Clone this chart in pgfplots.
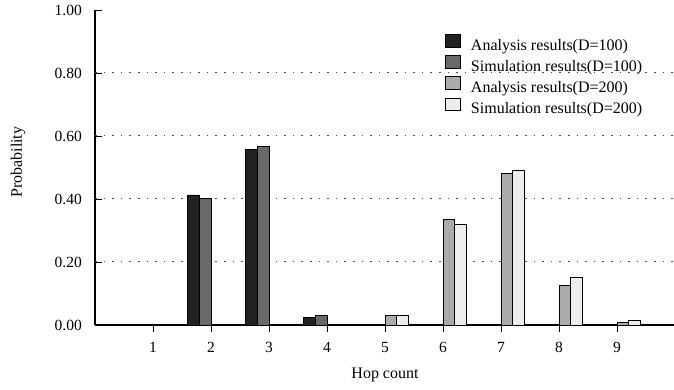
\documentclass[border=0pt]{standalone}
\usepackage{pgfplots}
\pgfplotsset{compat=1.18}
\usepackage{fontspec}
\setmainfont{Liberation Serif}
\begin{document}
\begin{tikzpicture}
\begin{axis}[
  at={(0pt,0pt)}, anchor=south west,
  scale only axis, width=580pt, height=315pt,
  xmin=0, xmax=10, ymin=0, ymax=1,
  axis x line*=bottom, axis y line*=left,
  axis line style={-, line width=1.1pt, black},
  xtick={1,2,3,4,5,6,7,8,9},
  ytick={0,0.2,0.4,0.6,0.8,1},
  extra y ticks={0.2,0.4,0.6,0.8},
  extra y tick labels={},
  extra y tick style={grid=major, major tick length=0pt},
  grid style={dash pattern=on 1.6pt off 7pt, line width=1pt, black!70},
  tick align=inside, major tick length=7pt,
  tick style={line width=0.9pt, black},
  /pgf/number format/assume math mode=true,
  yticklabel style={/pgf/number format/fixed, /pgf/number format/fixed zerofill, /pgf/number format/precision=2, inner sep=0pt, xshift=-13pt},
  xticklabel style={inner sep=0pt, yshift=-10pt},
  ticklabel style={font=\fontsize{15.5}{17}\selectfont},
  xlabel={Hop count}, ylabel={Probability},
  label style={font=\fontsize{16}{18}\selectfont},
  xlabel style={at={(axis description cs:0.5,-0.1714)}, anchor=base},
  ylabel style={at={(axis description cs:-0.1259,0.517)}, anchor=base, rotate=0},
  ybar=0pt, bar width=11.6pt,
  every axis plot/.append style={draw=black, line width=0.8pt},
  legend cell align=left,
  legend style={draw=none, fill=none, inner sep=0pt, at={(0.6034,0.924)}, anchor=north west,
    font=\fontsize{16}{18}\selectfont,
    nodes={inner sep=1pt, text height=11pt, text depth=3.5pt},
    /tikz/row sep=0.5pt},
  legend image code/.code={\draw[#1, line width=0.8pt] (0pt,-0.5pt) rectangle (15pt,12pt); \path (24pt,0pt);},
]
\addplot[fill=black!87] coordinates {(1,0.003) (2,0.413) (3,0.556) (4,0.023)};
\addplot[fill=black!59] coordinates {(1,0.002) (2,0.402) (3,0.567) (4,0.031)};
\addplot[fill=black!33] coordinates {(5,0.029) (6,0.335) (7,0.481) (8,0.125) (9,0.009)};
\addplot[fill=black!7] coordinates {(5,0.029) (6,0.318) (7,0.492) (8,0.150) (9,0.015)};
\legend{Analysis results(D=100), Simulation results(D=100), Analysis results(D=200), Simulation results(D=200)}
\end{axis}
\pgfresetboundingbox
\path (-95pt,-65pt) rectangle (579pt,325pt);
\end{tikzpicture}
\end{document}
